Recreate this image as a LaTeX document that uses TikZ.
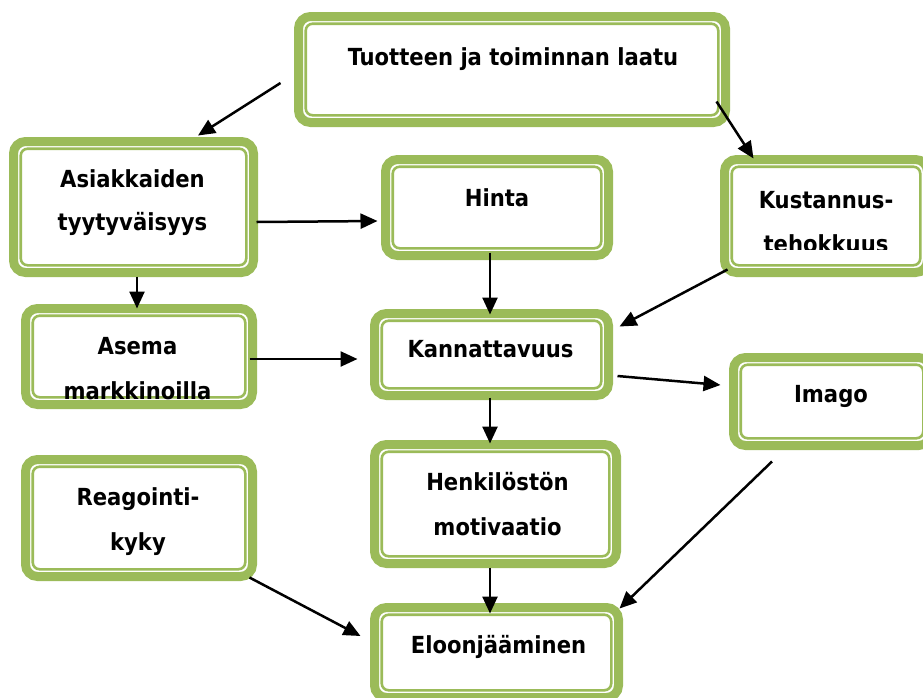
\documentclass[tikz,border=0pt]{standalone}
\usepackage{fontspec}
\setmainfont{DejaVu Sans Condensed}
\usetikzlibrary{arrows.meta,calc}
\definecolor{olive}{HTML}{9BBB59}
\tikzset{
  gbox/.style={draw=olive, line width=9pt, rounded corners=12pt, fill=white,
    inner sep=0pt, outer sep=0pt, minimum width=#1},
  innerline/.style={draw=olive, line width=2.6pt, rounded corners=7pt},
  lbl/.style={anchor=base, inner sep=0pt, font=\fontsize{23.5}{26}\selectfont\bfseries},
  arr/.style={line width=2.5pt, -{Triangle[length=17pt,width=15pt]}}
}
\begin{document}
\begin{tikzpicture}[x=1pt,y=-1pt]
\useasboundingbox (0,0) rectangle (923,697);
% boxes
\node[gbox=427pt, minimum height=106pt] (top)   at (512,69.5) {};
\node[gbox=240pt, minimum height=131pt] (asiak) at (133.5,207) {};
\node[gbox=223pt, minimum height=96pt]  (hinta) at (497,207.5) {};
\node[gbox=203pt, minimum height=113pt] (kust)  at (826,216) {};
\node[gbox=227pt, minimum height=96pt]  (asema) at (139,356.5) {};
\node[gbox=234pt, minimum height=82pt]  (kann)  at (491.5,354.5) {};
\node[gbox=197pt, minimum height=88pt]  (imago) at (832,401.5) {};
\node[gbox=227pt, minimum height=117pt] (reag)  at (139,518) {};
\node[gbox=242pt, minimum height=119pt] (henk)  at (495.5,504) {};
\node[gbox=244pt, minimum height=90pt]  (eloon) at (496.5,652.5) {};
\foreach \n in {top,asiak,hinta,kust,asema,kann,imago,reag,henk,eloon}
  \draw[innerline] ([shift={(7.2pt,-7.2pt)}]\n.north west) rectangle ([shift={(-7.2pt,7.2pt)}]\n.south east);
% texts
\node[lbl] (t1) at (513,65) {Tuotteen ja toiminnan laatu};
\node[lbl] (t2a) at (132.5,187) {Asiakkaiden};
\node[lbl] (t2b) at (132.5,230) {tyytyväisyys};
\node[lbl] (t3) at (497,206) {Hinta};
\node[lbl] (t4a) at (826,208) {Kustannus-};
\begin{scope}
\clip (724,159) rectangle (928,249);
\node[lbl] (t4b) at (826,252) {tehokkuus};
\end{scope}
\node[lbl] (t5a) at (137.5,354) {Asema};
\node[lbl] (t5b) at (137.5,399) {markkinoilla};
\node[lbl] (t6) at (490.5,357) {Kannattavuus};
\node[lbl] (t7) at (831,402) {Imago};
\node[lbl] (t8a) at (138,505) {Reagointi-};
\node[lbl] (t8b) at (138,550) {kyky};
\node[lbl] (t9a) at (497.5,490) {Henkilöstön};
\node[lbl] (t9b) at (497.5,535) {motivaatio};
\node[lbl] (t10) at (498.5,653) {Eloonjääminen};
% arrows
\draw[arr] ($(top.west)+(-18,13.5)$) -- ($(asiak.north)+(64.5,-6)$);
\draw[arr] ($(top.south east)+(-9,-21)$) -- ($(kust.north west)+(29,-1)$);
\draw[arr] ($(asiak.east)+(3,15)$) -- ($(hinta.west)+(-8,13.5)$);
\draw[arr] ($(asiak.south)+(3.5,4)$) -- ($(asema.north)+(-2,0)$);
\draw[arr] ($(hinta.south)+(-7,-3)$) -- ($(kann.north)+(-1.5,1)$);
\draw[arr] ($(kust.south west)+(3,-3)$) -- ($(kann.north east)+(11,13)$);
\draw[arr] ($(asema.east)+(-3,2.5)$) -- ($(kann.west)+(-17,4.5)$);
\draw[arr] ($(kann.east)+(9,21.5)$) -- ($(imago.west)+(-13,-16.5)$);
\draw[arr] ($(kann.south)+(-1.5,2)$) -- ($(henk.north)+(-5.5,-1)$);
\draw[arr] ($(imago.south)+(-60,16)$) -- ($(eloon.north east)+(1,1)$);
\draw[arr] ($(henk.south)+(-5.5,4)$) -- ($(eloon.north)+(-6.5,6)$);
\draw[arr] ($(reag.south east)+(-3,1)$) -- ($(eloon.west)+(-14,-16.5)$);
\end{tikzpicture}
\end{document}
